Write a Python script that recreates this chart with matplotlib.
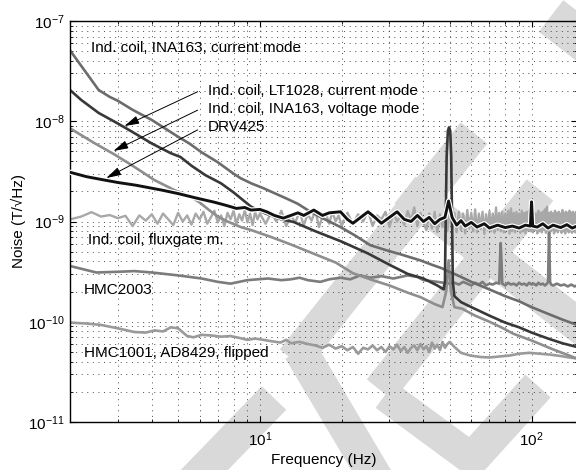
import matplotlib
matplotlib.use("Agg")
import matplotlib.pyplot as plt
import matplotlib.patheffects as pe
from matplotlib.patches import Polygon, FancyArrowPatch
from matplotlib.ticker import NullFormatter, FixedLocator
import numpy as np

plt.rcParams['font.family'] = ['Liberation Sans', 'DejaVu Sans']
plt.rcParams['mathtext.fontset'] = 'custom'
plt.rcParams['mathtext.rm'] = 'Liberation Sans'
plt.rcParams['font.size'] = 11

# ---- noise spectra (T/sqrt(Hz)) ----
# induction coil, INA163, current mode
f_ina_cur = [2.0, 2.55, 2.8, 3.0, 3.4, 4.0, 4.5, 5.0, 5.5, 6.1, 7.0, 8.0, 8.5, 9.3,
             10.3, 11.3, 12.5, 13.8, 15.0, 17.0, 19.8, 22.5, 25.5, 29, 33, 38.9, 43,
             47, 49, 52, 55, 60, 70, 80, 90, 100, 115, 130, 147]
v_ina_cur = np.array([51, 20.5, 17.5, 16.0, 13.0, 10.3, 8.4, 7.0, 6.0, 4.9, 3.9, 3.0,
                      2.7, 2.4, 2.15, 1.92, 1.7, 1.5, 1.3, 1.08, 0.88, 0.72, 0.58, 0.52,
                      0.47, 0.41, 0.37, 0.34, 0.32, 0.30, 0.28, 0.25, 0.21, 0.18, 0.16,
                      0.14, 0.12, 0.105, 0.093]) * 1e-9

# induction coil, LT1028, current mode
f_lt1028 = [2.0, 2.2, 2.55, 3.0, 3.4, 4.0, 4.7, 5.1, 5.6, 6.3, 7.2, 8.0, 9.3, 10.5, 12,
            13.3, 16, 20, 25, 30, 35, 40, 45, 47.5, 48.0, 48.3, 48.7, 49.2, 49.7, 50.2,
            50.6, 51.0, 51.3, 52, 55, 60, 70, 80, 90, 100, 115, 130, 147]
v_lt1028 = np.array([20.5, 16.3, 12.1, 9.5, 7.8, 6.0, 4.8, 4.4, 3.6, 2.9, 2.4, 1.95, 1.4,
                     1.2, 1.05, 0.99, 0.8, 0.63, 0.48, 0.37, 0.30, 0.27, 0.23, 0.21, 0.25,
                     1.0, 4.5, 8.0, 8.7, 8.0, 4.5, 1.0, 0.25, 0.18, 0.157, 0.14, 0.115,
                     0.098, 0.088, 0.078, 0.068, 0.061, 0.056]) * 1e-9

# induction coil, INA163, voltage mode
f_ina_volt = [2.0, 2.46, 2.9, 3.28, 3.7, 4.09, 4.84, 5.5, 6.0, 6.5, 7.0, 7.6, 8.5, 9.3,
              11, 13, 16, 19, 22, 26, 30, 35, 39, 44, 47, 48.5, 49.5, 50.5, 52, 55.5,
              62, 70, 78, 85.6, 100, 120, 147]
v_ina_volt = np.array([8.5, 6.05, 4.7, 3.83, 3.1, 2.59, 2.06, 1.8, 1.55, 1.3, 1.12, 1.0,
                       0.88, 0.82, 0.70, 0.59, 0.47, 0.39, 0.305, 0.26, 0.23, 0.195,
                       0.176, 0.15, 0.14, 0.2, 0.41, 0.2, 0.14, 0.135, 0.115, 0.1, 0.087,
                       0.076, 0.065, 0.053, 0.043]) * 1e-9

# DRV425 fluxgate
f_drv = [2.0, 2.3, 2.68, 3.0, 3.5, 4.34, 5.0, 5.8, 6.78, 7.5, 8.2, 8.8, 9.27, 10, 10.6,
         11.3, 12.2, 13, 13.8, 14.5, 15.8, 17, 18, 19.8, 21, 22, 23.5, 25, 26.5, 28, 30,
         32, 34, 36, 38, 40, 42, 44, 46, 48, 49.5, 51, 53, 55, 57, 60, 63, 67, 70, 75,
         80, 85, 90, 95, 99, 100, 101, 105, 110, 115, 120, 128, 135, 141, 147]
v_drv = np.array([3.1, 2.8, 2.59, 2.45, 2.3, 2.06, 1.9, 1.72, 1.56, 1.45, 1.35, 1.38,
                  1.3, 1.32, 1.25, 1.15, 1.08, 1.15, 1.22, 1.15, 1.3, 1.15, 1.22, 1.25,
                  1.05, 0.96, 1.1, 1.25, 1.1, 0.96, 1.1, 1.25, 1.05, 1.0, 1.15, 1.0, 1.1,
                  0.95, 1.05, 1.1, 1.6, 1.1, 0.92, 1.02, 0.9, 0.98, 0.88, 0.95, 0.86, 0.92,
                  0.87, 0.9, 0.86, 0.92, 0.9, 1.57, 0.9, 0.88, 0.95, 0.86, 0.92, 0.87,
                  0.93, 0.86, 0.9]) * 1e-9

# induction coil, fluxgate magnetometer electronics
f_flux = [2.0, 2.2, 2.4, 2.6, 2.8, 3.0, 3.2, 3.4, 3.6, 3.8, 4.0, 4.2, 4.4, 4.6, 4.8, 5.0,
          5.2, 5.4, 5.6, 5.8, 6.0, 6.2, 6.4, 6.6, 6.8, 7.0, 7.2, 7.4, 7.6, 7.8, 8.0, 8.2,
          8.4, 8.6, 8.8, 9.0, 9.2, 9.4, 9.6, 9.8, 10.0,
          10.5, 11, 11.5, 12, 12.5, 13, 13.5, 14, 14.5, 15, 15.5, 16, 16.5, 17, 17.5, 18,
          18.5, 19, 19.5, 20,
          21, 22, 23, 24, 25, 26, 27, 28, 29, 30, 31, 32, 33, 34, 35, 36, 37, 38, 39, 40,
          41, 42, 43, 44, 45, 46, 47, 48, 49, 50, 51, 52, 53, 54, 55, 56, 57, 58, 59, 60,
          61, 62, 63, 64, 65, 66, 67, 68, 69, 70, 71, 72, 73, 74, 75, 76, 77, 78, 79, 80,
          81, 82, 83, 84, 85, 86, 87, 88, 89, 90, 91, 92, 93, 94, 95, 96, 97, 98, 99, 100,
          101, 102, 103, 104, 105, 106, 107, 108, 109, 110, 111, 112, 113, 114, 115, 116,
          117, 118, 119, 120, 121, 122, 123, 124, 125, 126, 127, 128, 129, 130, 131, 132,
          133, 134, 135, 136, 137, 138, 139, 140, 141, 142, 143, 144, 145, 146, 147]
v_flux = np.array([
    1.05, 1.12, 1.24, 1.12, 1.16, 1.08, 1.14, 0.90, 1.15, 1.02, 1.18, 0.95, 1.20, 1.05,
    0.92, 1.22, 1.00, 1.15, 0.93, 1.20, 1.05, 1.25, 0.95, 1.10, 1.28, 0.98, 1.15, 0.90,
    1.22, 1.05, 1.28, 0.95, 1.18, 1.02, 1.30, 0.98, 1.20, 0.92, 1.25, 1.05, 1.20,
    0.95, 1.22, 1.00, 1.28, 0.90, 1.15, 0.98, 1.25, 0.92, 1.18, 1.02, 1.30, 0.88, 1.12,
    1.20, 0.95, 1.25, 1.00, 1.15, 0.90,
    1.22, 0.95, 1.18, 1.00, 1.28, 0.90, 1.15, 1.05, 1.25, 0.88, 1.20, 1.00, 1.15, 0.92,
    1.27, 1.02, 1.38, 0.90, 1.22, 0.98,
    0.82, 1.20, 0.85, 1.25, 0.78, 1.18, 0.88, 1.28, 0.80, 1.35, 0.85, 1.22, 0.78, 1.25,
    0.82, 1.20, 0.76, 1.30, 0.85, 1.22, 0.80, 1.32, 0.78, 1.20, 0.84, 1.25, 0.75, 1.18,
    0.82, 1.27, 0.80, 1.20, 0.77, 1.38, 0.82, 1.22, 0.80, 1.25, 0.78, 1.20, 0.84, 1.28,
    0.76, 1.35, 0.80, 1.22, 0.78, 1.25, 0.82, 1.20, 0.77, 1.28, 0.80, 1.22, 0.76, 1.25,
    0.82, 1.30, 0.80, 1.55, 0.78, 1.25, 0.82, 1.20, 0.76, 1.28, 0.80, 1.22, 0.78, 1.25,
    0.82, 1.32, 0.77, 1.40, 0.80, 1.22, 0.78, 1.25, 0.82, 1.20, 0.76, 1.28, 0.80, 1.22,
    0.78, 1.25, 0.82, 1.20, 0.77, 1.30, 0.80, 1.22, 0.76, 1.25, 0.82, 1.20, 0.78, 1.28,
    0.80, 1.22, 0.77, 1.25, 0.82, 1.20, 0.78, 1.25, 0.80]) * 1e-9

# HMC2003 magnetoresistive sensor
f_hmc2003 = [2.0, 2.5, 3.0, 3.45, 4.0, 5.0, 6.1, 7.0, 7.8, 9.0, 10.7, 12, 13, 14, 15,
             16.7, 18, 19.8, 21.5, 23.4, 25.5, 28, 31, 35, 38, 40, 45, 50, 52, 54, 56,
             58, 60, 62, 64, 66, 68, 70, 72, 74, 76, 76.5, 77, 77.5, 78, 80, 82, 84, 86,
             88, 90, 92, 94, 96, 98, 100, 102, 104, 106, 108, 110, 112, 114, 115, 115.5,
             116, 116.5, 117, 118, 120, 124, 128, 132, 136, 140, 144, 147]
v_hmc2003 = np.array([3.6, 3.1, 3.15, 3.2, 3.1, 2.9, 2.7, 2.5, 2.4, 2.6, 2.7, 2.6, 2.65,
                      2.75, 2.6, 2.5, 2.65, 2.75, 2.65, 2.9, 2.75, 2.85, 2.7, 2.9, 2.8,
                      2.6, 2.5, 2.4, 2.45, 2.35, 2.5, 2.4, 2.3, 2.45, 2.35, 2.5, 2.3, 2.4,
                      2.35, 2.45, 2.4, 4.0, 6.1, 4.0, 2.4, 2.3, 2.45, 2.35, 2.4, 2.3,
                      2.45, 2.35, 2.4, 2.3, 2.45, 2.35, 2.4, 2.3, 2.45, 2.35, 2.4, 2.3,
                      2.4, 2.5, 4.5, 7.7, 4.5, 2.5, 2.35, 2.3, 2.4, 2.3, 2.35, 2.25,
                      2.35, 2.25, 2.3]) * 1e-10

# HMC1001 with AD8429, flipped
f_hmc1001 = [2.0, 2.3, 2.6, 3.0, 3.45, 3.8, 4.1, 4.4, 4.7, 5.0, 5.4, 5.7, 6.1, 6.6, 7.2,
             7.8, 8.4, 9.0, 9.6, 10.3, 11, 11.9, 12.5, 13, 14, 15,
             16, 17, 18, 19, 20, 21, 22, 23, 24, 25, 26, 27, 28, 29, 30, 31, 32, 33, 34,
             35, 36, 37, 38, 39, 40, 41, 42, 43, 44, 45, 46, 47, 48, 49, 50,
             52, 55, 59.5, 65, 70, 76, 83, 90, 98, 107, 117, 128, 138, 147]
v_hmc1001 = np.array([9.8, 9.6, 9.3, 8.6, 7.9, 7.8, 8.2, 8.0, 8.8, 8.6, 7.2, 7.0, 7.4,
                      7.3, 7.1, 7.2, 6.9, 6.6, 6.8, 6.6, 6.4, 6.2, 6.6, 6.1, 6.3, 6.0,
                      5.8, 5.5, 5.9, 5.4, 5.7, 5.2, 5.6, 4.8, 5.5, 5.3, 5.8, 5.2, 5.6,
                      5.0, 5.7, 5.3, 5.9, 5.1, 5.6, 4.9, 5.5, 5.8, 5.2, 6.0, 5.3, 5.7,
                      5.0, 6.2, 5.4, 5.9, 5.2, 6.3, 5.5, 6.0, 6.3,
                      5.6, 4.9, 4.6, 4.45, 4.4, 4.5, 4.6, 4.8, 4.9, 4.8, 4.7, 4.55,
                      4.4, 4.3]) * 1e-11

labels = ["Ind. coil, INA163, current mode", "Ind. coil, LT1028, current mode",
          "Ind. coil, INA163, voltage mode", "DRV425", "Ind. coil, fluxgate m.",
          "HMC2003", "HMC1001, AD8429, flipped"]

x_major = [10, 100]
y_major = [1e-11, 1e-10, 1e-9, 1e-8, 1e-7]

# ---- figure ----
W, H = 576, 470
fig = plt.figure(figsize=(W / 100, H / 100), dpi=100, facecolor='white')

# light grey stamp strokes behind everything (pixel coordinates, origin top-left)
bg = fig.add_axes([0, 0, 1, 1], zorder=-1)
bg.set_xlim(0, W)
bg.set_ylim(H, 0)
bg.axis('off')


def band(p0, p1, width):
    (x0, y0), (x1, y1) = p0, p1
    d = np.array([x1 - x0, y1 - y0], float)
    d /= np.hypot(*d)
    n = np.array([-d[1], d[0]]) * width / 2
    pts = [(x0 + n[0], y0 + n[1]), (x1 + n[0], y1 + n[1]),
           (x1 - n[0], y1 - n[1]), (x0 - n[0], y0 - n[1])]
    bg.add_patch(Polygon(pts, closed=True, facecolor='#d9d9d9', edgecolor='none'))


band((551, 16), (660, 100), 40)
band((474, 133), (293, 360), 34)
band((300, 350), (380, 485), 34)
band((274, 398), (185, 490), 34)
band((538, 386), (462, 470), 34)
band((385, 395), (476, 462), 32)
band((405, 190), (610, 350), 34)
band((540, 190), (380, 390), 34)

ax = fig.add_axes([70 / W, (H - 422) / H, (577 - 70) / W, (422 - 21) / H])
ax.set_facecolor('none')
ax.set_xscale('log')
ax.set_yscale('log')
ax.set_xlim(2, 147)
ax.set_ylim(1e-11, 1e-7)
ax.xaxis.set_major_locator(FixedLocator(x_major))
ax.yaxis.set_major_locator(FixedLocator(y_major))
ax.xaxis.set_minor_formatter(NullFormatter())
ax.yaxis.set_minor_formatter(NullFormatter())

ax.grid(True, which='both', linestyle=(0, (1.2, 5.5)), color='#333333', linewidth=0.6)
ax.tick_params(which='both', direction='in', top=True, right=True, labelsize=11,
               colors='black')
ax.tick_params(which='major', length=4.5, width=0.8)
ax.tick_params(axis='x', which='major', pad=6)
ax.tick_params(which='minor', length=2.5, width=0.6)
for s in ax.spines.values():
    s.set_linewidth(1.0)

lw = 1.9
ax.plot(f_flux, v_flux, color='#a8a8a8', lw=1.7, zorder=2)
ax.plot(f_hmc1001, v_hmc1001, color='#9a9a9a', lw=lw, zorder=2.1)
ax.plot(f_hmc2003, v_hmc2003, color='#7c7c7c', lw=lw, zorder=2.2)
ax.plot(f_ina_volt, v_ina_volt, color='#8e8e8e', lw=lw, zorder=2.3)
ax.plot(f_ina_cur, v_ina_cur, color='#6c6c6c', lw=lw, zorder=2.4)
ax.plot(f_lt1028, v_lt1028, color='#383838', lw=lw, zorder=2.5)
ax.plot(f_drv, v_drv, color='#111111', lw=2.1, zorder=3,
        path_effects=[pe.Stroke(linewidth=3.8, foreground='white'), pe.Normal()])

# curve labels
txt = dict(transform=ax.transAxes, fontsize=11, va='center', ha='left', zorder=5)
ax.text(0.041, 0.933, labels[0], **txt)
ax.text(0.272, 0.826, labels[1], **txt)
ax.text(0.272, 0.781, labels[2], **txt)
ax.text(0.272, 0.736, labels[3], **txt)
ax.text(0.035, 0.454, labels[4], **txt)
ax.text(0.028, 0.329, labels[5], **txt)
ax.text(0.028, 0.172, labels[6], **txt)

# pointer arrows from the labels to their curves
for tail, tip in [((5.9, 1.97e-8), (3.17, 8.95e-9)),
                  ((5.9, 1.29e-8), (2.89, 5.05e-9)),
                  ((5.9, 8.2e-9), (2.72, 2.71e-9))]:
    ax.add_patch(FancyArrowPatch(tail, tip, transform=ax.transData,
                                 arrowstyle='-|>,head_length=0.9,head_width=0.25',
                                 mutation_scale=10, color='black', lw=0.7,
                                 shrinkA=0, shrinkB=0, zorder=5))

ax.set_xlabel('Frequency (Hz)', fontsize=11, labelpad=3)
ax.set_ylabel('Noise (T/\u221aHz)', fontsize=11, labelpad=2)

fig.savefig('out.png', dpi=100)
